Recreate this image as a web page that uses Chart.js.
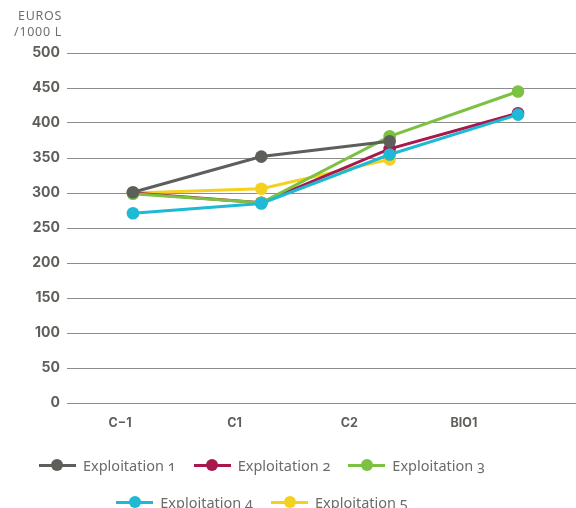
<!DOCTYPE html>
<html>
<head>
<meta charset="utf-8">
<script src="https://cdn.jsdelivr.net/npm/chart.js@4/dist/chart.umd.min.js"></script>
<style>
  html, body { margin: 0; padding: 0; background: #fff; }
  #wrap { position: relative; width: 576px; height: 508px; overflow: hidden; }
  #c { position: absolute; left: 0; top: 0; }
  #ytitle { position: absolute; right: 514px; top: 8px; text-align: right;
            font: 400 12.5px "Noto Sans", sans-serif; line-height: 16px; color: #6e706c; letter-spacing: 0.7px; }
  .lrow { position: absolute; left: 0; width: 524px; display: flex; justify-content: center; gap: 18px;
          font: 400 14.5px "Noto Sans", sans-serif; color: #6a6c68; font-variant-numeric: oldstyle-nums; }
  .item { display: flex; align-items: center; height: 20px; }
  .sym { position: relative; width: 37px; height: 14px; margin-right: 7px; }
  .sym .ln { position: absolute; left: 0; right: 0; top: 5.5px; height: 3px; }
  .sym .pt { position: absolute; left: 12.5px; top: 1px; width: 12px; height: 12px; border-radius: 50%; }
</style>
</head>
<body>
<div id="wrap">
  <canvas id="c" width="576" height="508"></canvas>
  <div id="ytitle">EUROS<br>/1000 L</div>
  <div class="lrow" id="row1" style="top:455px"></div>
  <div class="lrow" id="row2" style="top:492px"></div>
</div>
<script>
const categories = ['C\u22121', 'C1', 'C2', 'BIO1'];
const seriesNames = ['Exploitation 1', 'Exploitation 2', 'Exploitation 3', 'Exploitation 4', 'Exploitation 5'];
const exploitation1 = [301, 352, 374, null];
const exploitation2 = [300, 286, 363, 414];
const exploitation3 = [299, 286, 381, 445];
const exploitation4 = [271, 285, 355, 412];
const exploitation5 = [300, 306, 348, null];
const yTicks = [0, 50, 100, 150, 200, 250, 300, 350, 400, 450, 500];

const colors = ['#5d605a', '#a8184f', '#7cc142', '#1db9d5', '#f5d11f'];
const drawOrder = [1, 3, 2, 0, 4];
const allSeries = [exploitation1, exploitation2, exploitation3, exploitation4, exploitation5];

const datasets = allSeries.map((vals, i) => ({
  label: seriesNames[i],
  data: vals.map((v, j) => ({ x: j, y: v })),
  borderColor: colors[i],
  backgroundColor: colors[i],
  pointBackgroundColor: colors[i],
  pointBorderWidth: 0,
  pointRadius: 6.3,
  borderWidth: 3,
  order: drawOrder[i],
  xAxisID: 'x',
  yAxisID: 'y'
}));

new Chart(document.getElementById('c'), {
  type: 'line',
  data: { datasets },
  options: {
    responsive: false,
    animation: false,
    events: [],
    layout: { autoPadding: false, padding: { top: 53, left: 0, right: 0, bottom: 75 } },
    plugins: { legend: { display: false }, tooltip: { enabled: false }, title: { display: false } },
    scales: {
      x: {
        type: 'linear', display: false, min: -0.514, max: 3.452
      },
      x2: {
        type: 'linear', position: 'bottom', min: -0.462, max: 3.977,
        grid: { display: false, drawTicks: false },
        border: { display: false },
        afterBuildTicks: (s) => { s.ticks = categories.map((c, i) => ({ value: i })); },
        afterFit: (s) => { s.height = 30; s.paddingLeft = 0; s.paddingRight = 0; },
        ticks: {
          padding: 13,
          color: '#5d605a',
          font: { family: 'Inter', size: 12.5, weight: '700' },
          maxRotation: 0, autoSkip: false,
          callback: (v) => categories[v]
        }
      },
      y: {
        type: 'linear', position: 'left', min: 0, max: 500,
        afterBuildTicks: (s) => { s.ticks = yTicks.map(v => ({ value: v })); },
        afterFit: (s) => { s.width = 67; },
        grid: { color: '#8c8c8c', lineWidth: 1, drawTicks: false },
        border: { display: false },
        ticks: {
          padding: 7,
          color: '#5d605a',
          font: { family: 'Inter', size: 14, weight: '700' }
        }
      }
    }
  }
});

function makeItem(i) {
  const item = document.createElement('div');
  item.className = 'item';
  const sym = document.createElement('div');
  sym.className = 'sym';
  const ln = document.createElement('div'); ln.className = 'ln'; ln.style.background = colors[i];
  const pt = document.createElement('div'); pt.className = 'pt'; pt.style.background = colors[i];
  sym.appendChild(ln); sym.appendChild(pt);
  const txt = document.createElement('span');
  txt.textContent = seriesNames[i];
  item.appendChild(sym); item.appendChild(txt);
  return item;
}
[0, 1, 2].forEach(i => document.getElementById('row1').appendChild(makeItem(i)));
[3, 4].forEach(i => document.getElementById('row2').appendChild(makeItem(i)));
</script>
</body>
</html>
